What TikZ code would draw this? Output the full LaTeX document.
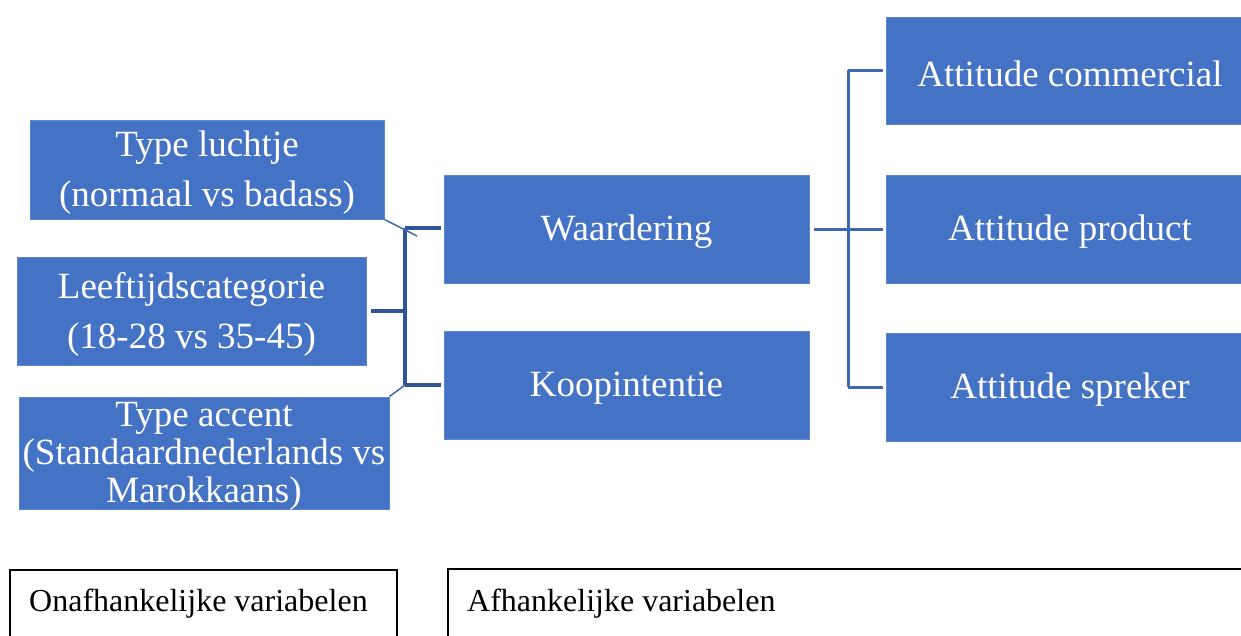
\documentclass[tikz,border=0pt]{standalone}
\usepackage{fontspec}
\setmainfont{Liberation Serif}
\definecolor{boxblue}{HTML}{4472C4}
\definecolor{boxedge}{HTML}{5B87D0}
\definecolor{linedark}{HTML}{2F5597}
\definecolor{linemid}{HTML}{3F69B5}
\begin{document}
\begin{tikzpicture}[x=1pt,y=-1pt,
  bluebox/.style={draw=boxedge,line width=1pt,fill=boxblue,inner sep=0pt},
  boxtext/.style={text=white,inner sep=0pt,align=center,yshift=-3pt,
    font=\fontsize{37}{50}\selectfont},
  labelbox/.style={draw=black,line width=1.3pt,fill=white},
  legendtext/.style={anchor=west,inner sep=0pt,font=\fontsize{32}{38}\selectfont},
  bracket/.style={draw=linedark,line width=3.2pt},
  rbracket/.style={draw=linemid,line width=3pt},
  thin/.style={draw=linemid,line width=1.5pt}]
\useasboundingbox (0,0) rectangle (1241,635);
% left boxes
\node[bluebox,minimum width=354pt,minimum height=99pt] (tl) at (207,169.5) {};
\node[boxtext] (tlt) at (tl.center) {Type luchtje\\(normaal vs badass)};
\node[bluebox,minimum width=349pt,minimum height=108pt] (lc) at (191.5,311) {};
\node[boxtext] (lct) at (lc.center) {Leeftijdscategorie\\(18-28 vs 35-45)};
\node[bluebox,minimum width=370pt,minimum height=112pt] (ta) at (204,453) {};
\node[boxtext,font=\fontsize{37}{38}\selectfont] (tat) at (ta.center) {Type accent\\(Standaardnederlands vs\\Marokkaans)};
% middle boxes
\node[bluebox,minimum width=365pt,minimum height=108pt] (wa) at (626.5,229) {};
\node[boxtext] (wat) at (wa.center) {Waardering};
\node[bluebox,minimum width=365pt,minimum height=108pt] (ko) at (626.5,385) {};
\node[boxtext] (kot) at (ko.center) {Koopintentie};
% right boxes
\node[bluebox,minimum width=356pt,minimum height=107pt] (ac) at (1064,70.5) {};
\node[boxtext,xshift=6pt] (act) at (ac.center) {Attitude commercial};
\node[bluebox,minimum width=356pt,minimum height=108pt] (ap) at (1064,229) {};
\node[boxtext,xshift=6pt] (apt) at (ap.center) {Attitude product};
\node[bluebox,minimum width=356pt,minimum height=108pt] (as) at (1064,387) {};
\node[boxtext,xshift=6pt] (ast) at (as.center) {Attitude spreker};
% left bracket
\coordinate (lt) at (405,228);
\coordinate (lb) at (405,385);
\coordinate (lm) at (405,311);
\draw[bracket] (lt) -- (lb);
\draw[bracket] (lt) -- ([xshift=-3pt]wa.west |- lt);
\draw[bracket] (lb) -- ([xshift=-3pt]ko.west |- lb);
\draw[bracket] ([xshift=4pt]lc.east |- lm) -- (lm);
\coordinate (dt) at (417,236);
\draw[thin] (tl.south east) -- (dt);
\draw[thin] (ta.north east) -- (lb);
% right bracket
\coordinate (rt) at (848,70);
\coordinate (rm) at (848,229);
\coordinate (rb) at (848,387);
\draw[rbracket] (rt) -- (rb);
\draw[rbracket] (rt) -- ([xshift=-3pt]ac.west |- rt);
\draw[rbracket] (rb) -- ([xshift=-3pt]as.west |- rb);
\draw[rbracket] ([xshift=4pt]wa.east |- rm) -- ([xshift=-3pt]ap.west |- rm);
% legend boxes
\path[labelbox] (10,570) rectangle (397,640);
\path[labelbox] (448,569) rectangle (1245,640);
\node[legendtext] (ona) at (29,604) {Onafhankelijke variabelen};
\node[legendtext] (afh) at (467,604) {Afhankelijke variabelen};
\end{tikzpicture}
\end{document}
